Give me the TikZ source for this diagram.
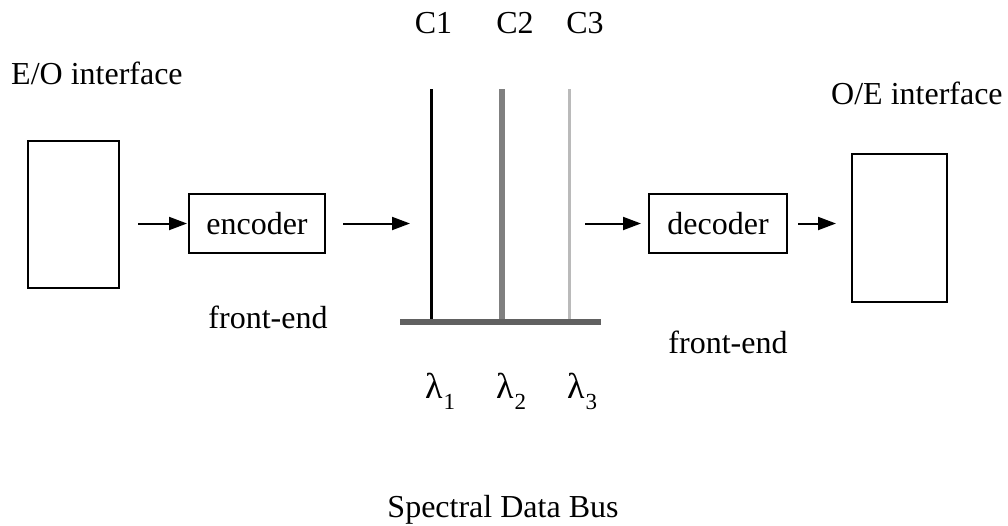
\documentclass[tikz,border=0pt]{standalone}
\usepackage{fontspec}
\setmainfont{Liberation Serif}
\usetikzlibrary{arrows.meta}
\begin{document}
\begin{tikzpicture}[x=1pt,y=-1pt,
  lbl/.style={inner sep=0pt, font=\fontsize{32}{38}\selectfont},
  box/.style={draw, line width=2pt, inner sep=0pt, font=\fontsize{32}{38}\selectfont},
  conn/.style={line width=2pt, -{Triangle[length=18pt 0,width=13pt 0]}},
  chan/.style={line cap=butt},
]
\useasboundingbox (0,0) rectangle (1008,525);
% boxes
\node[box, minimum width=91pt, minimum height=147pt] (eo) at (73.5,214.5) {};
\node[box, minimum width=136pt, minimum height=59pt] (enc) at (257,223.5) {encoder};
\node[box, minimum width=138pt, minimum height=59pt] (dec) at (718,223.5) {decoder};
\node[box, minimum width=95pt, minimum height=148pt] (oe) at (899.5,228) {};
% spectral bus
\coordinate (c1) at (431,89);
\coordinate (c2) at (502,89);
\coordinate (c3) at (569,89);
\coordinate (busl) at (400,322);
\coordinate (busr) at (601,322);
\draw[chan, line width=3pt, black] (c1) -- (c1 |- 0,319);
\draw[chan, line width=6pt, black!50] (c2) -- (c2 |- 0,319);
\draw[chan, line width=3pt, black!27] (c3) -- (c3 |- 0,319);
\draw[chan, line width=6pt, black!62] (busl) -- (busr);
% connectors
\draw[conn, shorten <=18pt, shorten >=1pt] (eo.east |- enc.west) -- (enc.west);
\draw[conn, shorten <=17pt, shorten >=21pt] (enc.east) -- (enc.east -| c1);
\draw[conn, shorten <=16pt, shorten >=7pt] (dec.west -| c3) -- (dec.west);
\draw[conn, shorten <=10pt, shorten >=15pt] (dec.east) -- (oe.west |- dec.east);
% labels
\node[lbl, anchor=base west] (eolbl) at (11,84) {E/O interface};
\node[lbl, anchor=base west] (oelbl) at (831,104) {O/E interface};
\node[lbl, anchor=base] (c1lbl) at (433.5,33) {C1};
\node[lbl, anchor=base] (c2lbl) at (515,33) {C2};
\node[lbl, anchor=base] (c3lbl) at (585,33) {C3};
\node[lbl, anchor=base] (fe1) at (268,328) {front-end};
\node[lbl, anchor=base] (fe2) at (728,353) {front-end};
\node[lbl, anchor=base west, font=\fontsize{36}{40}\selectfont] (l1) at (425,398) {λ\kern1pt\raisebox{-11pt}{\fontsize{23}{26}\selectfont 1}};
\node[lbl, anchor=base west, font=\fontsize{36}{40}\selectfont] (l2) at (496,398) {λ\kern1pt\raisebox{-11pt}{\fontsize{23}{26}\selectfont 2}};
\node[lbl, anchor=base west, font=\fontsize{36}{40}\selectfont] (l3) at (567,398) {λ\kern1pt\raisebox{-11pt}{\fontsize{23}{26}\selectfont 3}};
\node[lbl, anchor=base] (sdb) at (503,517) {Spectral Data Bus};
\end{tikzpicture}
\end{document}
